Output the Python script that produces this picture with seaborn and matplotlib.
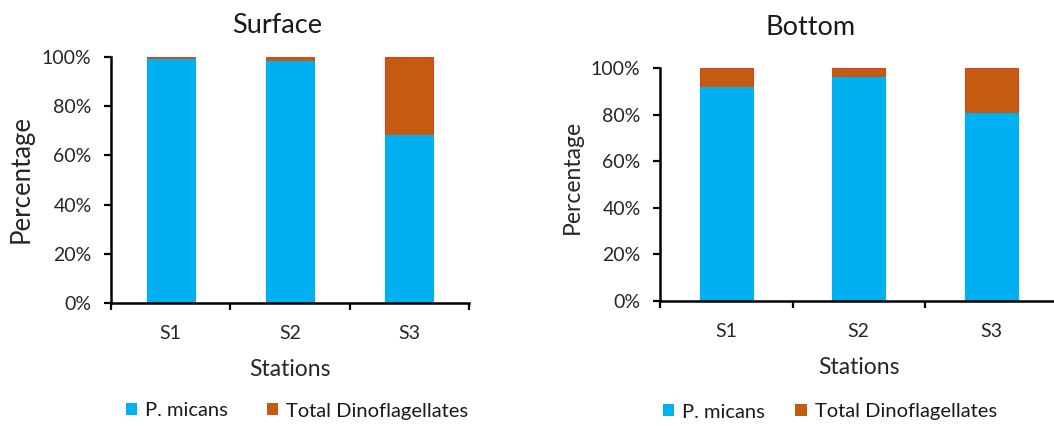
import matplotlib
matplotlib.use("Agg")
import matplotlib.pyplot as plt
import seaborn as sns
import pandas as pd
from matplotlib.patches import Patch
from matplotlib.ticker import PercentFormatter, FixedLocator

stations = ["S1", "S2", "S3"]
surface_micans = [99.3, 98.5, 68.4]
surface_dino = [0.7, 1.5, 31.6]
bottom_micans = [91.8, 96.1, 80.6]
bottom_dino = [8.2, 3.9, 19.4]
series_names = ["P. micans", "Total Dinoflagellates"]

BLUE = "#00B0F0"
ORANGE = "#C55A11"

sns.set_theme(style="white")
plt.rcParams["font.family"] = ["Lato", "DejaVu Sans"]
plt.rcParams["text.color"] = "#1a1a1a"

W, H = 1054, 426
fig = plt.figure(figsize=(W / 100, H / 100), dpi=100)


def panel(rect, title, title_x, micans, dino, title_pad, ylabel_size,
          ylabel_xy, legend_xy, colspace):
    ax = fig.add_axes(rect)
    df = pd.DataFrame({
        "station": stations,
        "micans": micans,
        "total": [m + d for m, d in zip(micans, dino)],
    })
    sns.barplot(data=df, x="station", y="total", color=ORANGE, width=0.4,
                saturation=1, edgecolor="#D9441A", linewidth=0.8, ax=ax)
    sns.barplot(data=df, x="station", y="micans", color=BLUE, width=0.4,
                saturation=1, edgecolor=BLUE, linewidth=0.8, ax=ax)
    ax.set_xlim(-0.5, 2.5)
    ax.set_ylim(0, 100)
    ax.yaxis.set_major_locator(FixedLocator([0, 20, 40, 60, 80, 100]))
    ax.yaxis.set_major_formatter(PercentFormatter(decimals=0))
    ax.xaxis.set_major_locator(FixedLocator([0, 1, 2]))
    ax.set_xticklabels(stations)
    ax.xaxis.set_minor_locator(FixedLocator([-0.5, 0.5, 1.5, 2.5]))
    ax.tick_params(axis="x", which="major", length=0, labelsize=14, pad=16)
    ax.tick_params(axis="x", which="minor", length=5, width=1.6,
                   color="black", direction="out", bottom=True)
    ax.tick_params(axis="y", which="major", length=5, width=1.6,
                   color="black", direction="out", left=True, labelsize=14,
                   pad=9)
    for s in ["top", "right"]:
        ax.spines[s].set_visible(False)
    for s in ["left", "bottom"]:
        ax.spines[s].set_color("black")
        ax.spines[s].set_linewidth(1.8)
    ax.set_xlabel("Stations", fontsize=16.5, labelpad=12)
    ax.set_ylabel("Percentage", fontsize=ylabel_size)
    ax.yaxis.set_label_coords(*ylabel_xy)
    ax.set_title(title, fontsize=19.5, pad=title_pad, x=title_x)
    handles = [Patch(facecolor=BLUE, edgecolor="none"),
               Patch(facecolor=ORANGE, edgecolor="none")]
    fig.legend(handles, series_names, loc="center",
               bbox_to_anchor=(legend_xy[0] / W, 1 - legend_xy[1] / H),
               ncol=2, frameon=False, fontsize=14.5, handlelength=0.55,
               handleheight=0.55, handletextpad=0.4, columnspacing=colspace,
               borderpad=0, borderaxespad=0)
    return ax


panel([111 / W, (H - 303) / H, 358 / W, 246 / H], "Surface", 0.464,
      surface_micans, surface_dino, 17, 18.5, (-0.215, 0.506),
      (297, 411), 1.9)
panel([660 / W, (H - 300.7) / H, 397.5 / W, 232.4 / H], "Bottom", 0.38,
      bottom_micans, bottom_dino, 24, 16.5, (-0.194, 0.532),
      (830, 412), 1.5)

fig.savefig("out.png", dpi=100, facecolor="white")
